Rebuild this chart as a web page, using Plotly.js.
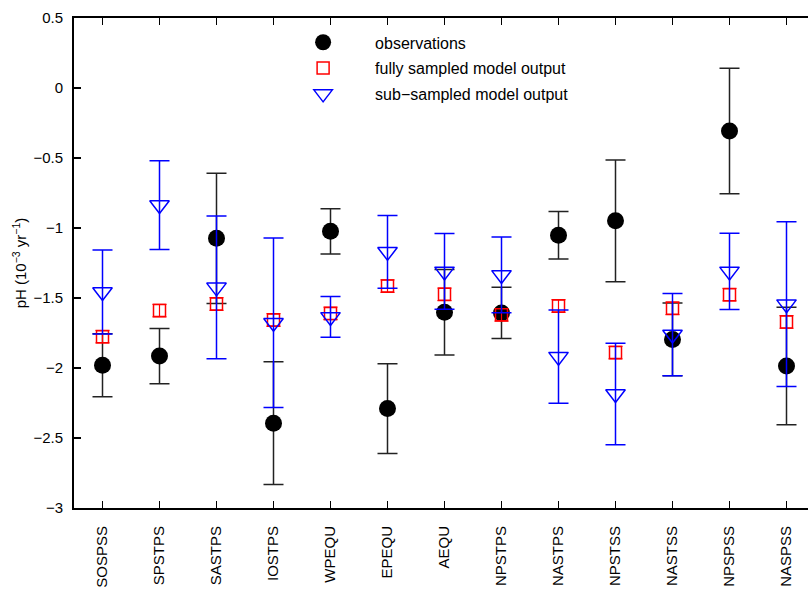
<!DOCTYPE html>
<html>
<head>
<meta charset="utf-8">
<script src="https://cdn.plot.ly/plotly-3.0.1.min.js"></script>
<style>
html,body{margin:0;padding:0;overflow:hidden;background:#fff;}
#chart{width:820px;height:591px;}
</style>
</head>
<body>
<div id="chart"></div>
<script>
const categories = ["SOSPSS","SPSTPS","SASTPS","IOSTPS","WPEQU","EPEQU","AEQU","NPSTPS","NASTPS","NPSTSS","NASTSS","NPSPSS","NASPSS"];
const obs      = [-1.980,-1.915,-1.074,-2.394,-1.024,-2.290,-1.602,-1.607,-1.052,-0.949,-1.796,-0.307,-1.986];
const obsErr   = [0.225,0.198,0.465,0.439,0.162,0.320,0.305,0.183,0.169,0.435,0.260,0.448,0.420];
const full     = [-1.776,-1.590,-1.543,-1.657,-1.610,-1.415,-1.474,-1.620,-1.557,-1.890,-1.574,-1.476,-1.671];
const fullErr  = [0.045,0.045,0.045,0.045,0.045,0.045,0.045,0.045,0.045,0.045,0.045,0.045,0.045];
const sub      = [-1.457,-0.836,-1.424,-1.677,-1.635,-1.170,-1.310,-1.335,-1.919,-2.186,-1.761,-1.310,-1.544];
const subErr   = [0.300,0.317,0.510,0.606,0.145,0.260,0.270,0.270,0.333,0.362,0.294,0.272,0.589];
const yTickVals = [-3,-2.5,-2,-1.5,-1,-0.5,0,0.5];
const yTickText = ["\u22123","\u22122.5","\u22122","\u22121.5","\u22121","\u22120.5","0","0.5"];
const seriesNames = ["observations","fully sampled model output","sub\u2212sampled model output"];

const FONT = "Liberation Sans, Arial, Helvetica, sans-serif";

const traces = [
  {
    x: categories, y: obs, name: seriesNames[0], type: "scatter", mode: "markers",
    legendgroup: "a",
    marker: {symbol: "circle", size: 17, color: "#000"},
    error_y: {type: "data", array: obsErr, visible: true, color: "#222", thickness: 1.5, width: 10}
  },
  {
    x: categories, y: full, name: seriesNames[1], type: "scatter", mode: "markers",
    legendgroup: "b",
    marker: {symbol: "square-open", size: 12, color: "#ff0000", line: {width: 1.5}},
    error_y: {type: "data", array: fullErr, visible: true, color: "#ff0000", thickness: 1.2, width: 7}
  },
  {
    x: categories, y: sub, name: seriesNames[2], type: "scatter", mode: "markers",
    legendgroup: "c",
    marker: {symbol: "triangle-down-open", size: 17, color: "#0000ff", line: {width: 1.5}},
    error_y: {type: "data", array: subErr, visible: true, color: "#0000ff", thickness: 1.5, width: 10}
  }
];

const layout = {
  width: 820, height: 591,
  margin: {l: 74, r: 5, t: 18, b: 83},
  paper_bgcolor: "#fff", plot_bgcolor: "#fff",
  font: {family: FONT, size: 15, color: "#000"},
  showlegend: true,
  legend: {
    x: 0.266, xanchor: "left", y: 0.985, yanchor: "top",
    bgcolor: "rgba(0,0,0,0)", borderwidth: 0,
    font: {family: FONT, size: 16, color: "#000"},
    itemwidth: 94, tracegroupgap: 2
  },
  xaxis: {
    type: "category", range: [-0.5, 12.5],
    showline: true, linecolor: "#000", linewidth: 2, mirror: "ticks",
    ticks: "inside", ticklen: 7, tickwidth: 1.5, tickcolor: "#000",
    tickangle: -90, tickfont: {family: FONT, size: 15},
    ticklabelstandoff: 10,
    showgrid: false, zeroline: false, fixedrange: true
  },
  yaxis: {
    range: [-3, 0.5], tickvals: yTickVals, ticktext: yTickText,
    showline: true, linecolor: "#000", linewidth: 2, mirror: "ticks",
    ticks: "inside", ticklen: 7, tickwidth: 1.5, tickcolor: "#000",
    tickfont: {family: FONT, size: 15},
    ticklabelstandoff: 6,
    showgrid: false, zeroline: false, fixedrange: true,
    title: {text: "pH (10<sup>\u22123</sup> yr<sup>\u22121</sup>)", font: {family: FONT, size: 15}, standoff: 3}
  }
};

Plotly.newPlot("chart", traces, layout, {displayModeBar: false, staticPlot: true});
</script>
</body>
</html>
